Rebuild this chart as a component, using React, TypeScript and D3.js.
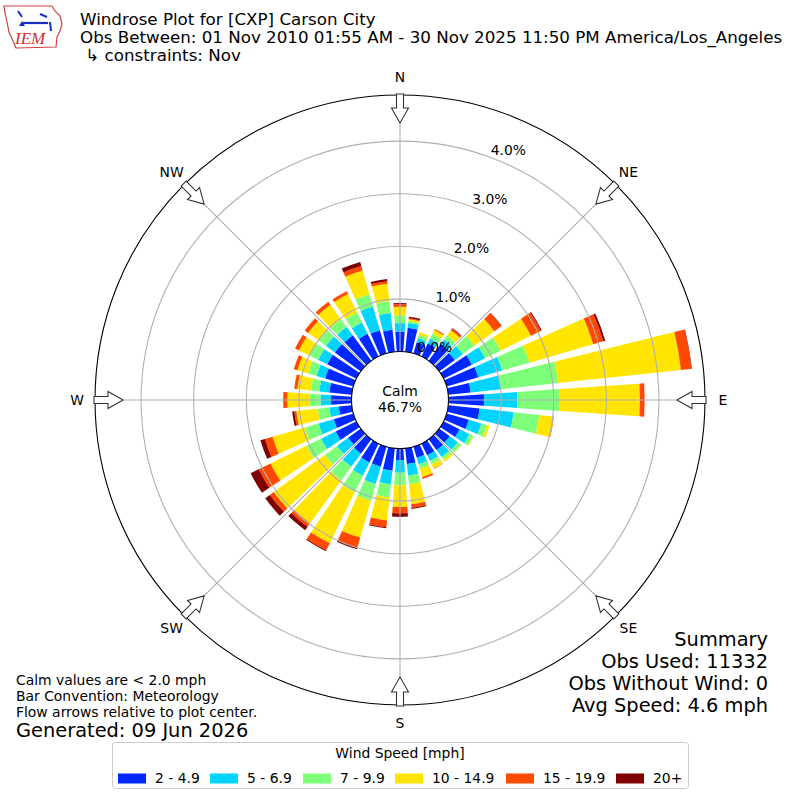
import React from 'react';
import * as d3 from 'd3';

// wind directions (deg, meteorological) and percent of obs per speed bin
const directions = [0, 10, 20, 30, 40, 50, 60, 70, 80, 90, 100, 110, 120, 130, 140, 150, 160, 170,
  180, 190, 200, 210, 220, 230, 240, 250, 260, 270, 280, 290, 300, 310, 320, 330, 340, 350];

const pct2to5 = [0.38, 0.46, 0.22, 0.28, 0.40, 0.37, 0.60, 0.63, 0.43, 0.68, 0.60, 0.44, 0.34, 0.25, 0.26, 0.25, 0.22, 0.30,
  0.22, 0.43, 0.40, 0.40, 0.34, 0.30, 0.44, 0.39, 0.25, 0.39, 0.43, 0.56, 0.62, 0.61, 0.60, 0.48, 0.46, 0.42];
const pct5to7 = [0.16, 0.09, 0.08, 0.10, 0.10, 0.19, 0.28, 0.47, 0.58, 0.63, 0.65, 0.25, 0.21, 0.19, 0.16, 0.12, 0.13, 0.22,
  0.24, 0.26, 0.34, 0.28, 0.31, 0.26, 0.31, 0.30, 0.18, 0.20, 0.19, 0.17, 0.19, 0.21, 0.20, 0.24, 0.47, 0.32];
const pct7to10 = [0.15, 0.04, 0.07, 0.10, 0.10, 0.27, 0.33, 0.54, 1.09, 0.81, 0.49, 0.11, 0.08, 0.07, 0.06, 0.07, 0.09, 0.17,
  0.24, 0.25, 0.33, 0.35, 0.32, 0.29, 0.31, 0.27, 0.22, 0.21, 0.16, 0.17, 0.18, 0.17, 0.18, 0.21, 0.24, 0.23];
const pct10to15 = [0.16, 0.03, 0.05, 0.08, 0.12, 0.47, 0.64, 1.26, 2.35, 1.52, 0.27, 0.05, 0.01, 0.01, 0.05, 0.09, 0.16, 0.38,
  0.41, 0.44, 0.73, 1.08, 1.01, 1.20, 0.76, 0.64, 0.41, 0.42, 0.26, 0.21, 0.23, 0.25, 0.34, 0.39, 0.47, 0.33];
const pct15to20 = [0.05, 0.02, 0.0, 0.02, 0.04, 0.16, 0.21, 0.20, 0.20, 0.09, 0.01, 0.0, 0.0, 0.0, 0.0, 0.01, 0.04, 0.07,
  0.12, 0.13, 0.20, 0.15, 0.08, 0.09, 0.25, 0.15, 0.04, 0.08, 0.06, 0.07, 0.08, 0.08, 0.07, 0.06, 0.09, 0.05];
const pct20plus = [0.02, 0.03, 0.0, 0.0, 0.01, 0.01, 0.02, 0.04, 0.01, 0.0, 0.0, 0.0, 0.0, 0.0, 0.0, 0.0, 0.0, 0.02,
  0.07, 0.02, 0.03, 0.02, 0.08, 0.11, 0.17, 0.09, 0.04, 0.0, 0.0, 0.0, 0.0, 0.0, 0.0, 0.0, 0.08, 0.04];

const speedBins = ['2 - 4.9', '5 - 6.9', '7 - 9.9', '10 - 14.9', '15 - 19.9', '20+'];
const binColors = ['#0028ff', '#00d4ff', '#7dff7a', '#ffe500', '#ff4800', '#800000'];
const ringTicks = [0, 1, 2, 3, 4];
const compass = [
  { label: 'N', deg: 0 }, { label: 'NE', deg: 45 }, { label: 'E', deg: 90 }, { label: 'SE', deg: 135 },
  { label: 'S', deg: 180 }, { label: 'SW', deg: 225 }, { label: 'W', deg: 270 }, { label: 'NW', deg: 315 },
];
const titleLines = [
  'Windrose Plot for [CXP] Carson City',
  'Obs Between: 01 Nov 2010 01:55 AM - 30 Nov 2025 11:50 PM America/Los_Angeles',
  ' \u21b3 constraints: Nov',
];
const summaryLines = ['Summary', 'Obs Used: 11332', 'Obs Without Wind: 0', 'Avg Speed: 4.6 mph'];
const noteLines = ['Calm values are < 2.0 mph', 'Bar Convention: Meteorology', 'Flow arrows relative to plot center.'];

const FONT = "'DejaVu Sans', sans-serif";

export default function App() {
  const cx = 400;
  const cy = 400;
  const calmR = 48.5;
  const outerR = 305;
  const r = d3.scaleLinear().domain([0, 4]).range([calmR, calmR + 4 * 52.6]);
  const rad = (deg: number) => (deg * Math.PI) / 180;

  const keys = ['b0', 'b1', 'b2', 'b3', 'b4', 'b5'];
  const binArrays = [pct2to5, pct5to7, pct7to10, pct10to15, pct15to20, pct20plus];
  const table = directions.map((dir, i) => {
    const row: any = { dir };
    keys.forEach((k, j) => (row[k] = binArrays[j][i]));
    return row;
  });
  const series = d3.stack<any>().keys(keys)(table);

  const halfWidth = 3.9; // degrees, bars take ~78% of the 10 deg sector
  const arc = d3.arc<any>()
    .innerRadius((d) => r(d[0]))
    .outerRadius((d) => r(d[1]))
    .startAngle((d) => rad(d.data.dir - halfWidth))
    .endAngle((d) => rad(d.data.dir + halfWidth));

  // hollow arrow pointing toward the centre, drawn for north then rotated
  const arrowPts = [
    [-3.5, -outerR - 1], [3.5, -outerR - 1], [3.5, -292], [8.5, -292], [0, -277], [-8.5, -292], [-3.5, -292],
  ].map((p) => p.join(',')).join(' ');

  const legendX = [118, 210, 303, 395, 506, 616];
  const rLabelAngle = rad(20.5);

  return (
    <div style={{ position: 'absolute', left: 0, top: 0 }}>
      <svg width={800} height={800} style={{ display: 'block', background: '#fff' }} fontFamily={FONT}>
        {/* IEM logo */}
        <g>
          <path d="M4,6 L52,6 L55,11 L60,16 L62,24 L60,31 L57,37 L56,47 L16,48 L13,41 L9,32 L7,22 L5,13 Z"
            fill="#fff" stroke="#d04040" strokeWidth={1.2} />
          <line x1={23} y1={23} x2={48} y2={23} stroke="#1a2fc0" strokeWidth={2.2} />
          <path d="M19,26 L22,21 L25,26 Z" fill="#1a2fc0" />
          <path d="M18,11 L22,17 M40,14 L47,17 M50,22 L51,31" stroke="#1a2fc0" strokeWidth={2} fill="none" />
          <text x={15} y={44} fontFamily="'Liberation Serif', serif" fontStyle="italic" fontSize={17} fill="#d03030">IEM</text>
        </g>

        {titleLines.map((t, i) => (
          <text key={t} x={80} y={24.5 + i * 18} fontSize={16.7} fill="#000" style={{ whiteSpace: 'pre' }}>{t}</text>
        ))}

        <g transform={`translate(${cx},${cy})`}>
          {/* bars */}
          {series.map((s, j) => (
            <g key={s.key} fill={binColors[j]}>
              {s.map((d: any) => (d[1] - d[0] > 0 ? <path key={d.data.dir} d={arc(d) || ''} /> : null))}
            </g>
          ))}

          {/* grid */}
          {ringTicks.slice(1).map((t) => (
            <circle key={t} r={r(t)} fill="none" stroke="#b0b0b0" strokeWidth={1.1} />
          ))}
          {compass.map((c) => (
            <line key={c.label} x1={0} y1={0} x2={outerR * Math.sin(rad(c.deg))} y2={-outerR * Math.cos(rad(c.deg))}
              stroke="#b0b0b0" strokeWidth={1.1} />
          ))}

          {/* calm circle */}
          <circle r={calmR} fill="#fff" stroke="#000" strokeWidth={1.1} />
          <text y={-9} textAnchor="middle" dominantBaseline="central" fontSize={13.9}>Calm</text>
          <text y={7} textAnchor="middle" dominantBaseline="central" fontSize={13.9}>46.7%</text>

          {/* radial labels */}
          {ringTicks.map((t) => (
            <text key={t} x={r(t) * Math.sin(rLabelAngle)} y={-r(t) * Math.cos(rLabelAngle) - 3}
              fontSize={13.9} textAnchor="start">{`${t.toFixed(1)}%`}</text>
          ))}

          <circle r={outerR} fill="none" stroke="#000" strokeWidth={1.1} />

          {/* flow arrows and compass labels */}
          {compass.map((c) => (
            <g key={c.label}>
              <polygon points={arrowPts} transform={`rotate(${c.deg})`} fill="#fff" stroke="#333" strokeWidth={1.1} />
              <text x={323 * Math.sin(rad(c.deg))} y={-323 * Math.cos(rad(c.deg))} textAnchor="middle"
                dominantBaseline="central" fontSize={13.9}>{c.label}</text>
            </g>
          ))}
        </g>

        {/* summary */}
        {summaryLines.map((t, i) => (
          <text key={t} x={768} y={646 + i * 22} textAnchor="end" fontSize={19.4}>{t}</text>
        ))}

        {/* notes */}
        {noteLines.map((t, i) => (
          <text key={t} x={16} y={684.5 + i * 16} fontSize={13.9}>{t}</text>
        ))}
        <text x={16} y={736.5} fontSize={19.4}>Generated: 09 Jun 2026</text>

        {/* legend */}
        <rect x={112.5} y={742.5} width={576} height={46} rx={3} fill="#fff" stroke="#cccccc" />
        <text x={400} y={758} textAnchor="middle" fontSize={13.9}>Wind Speed [mph]</text>
        {speedBins.map((b, i) => (
          <g key={b}>
            <rect x={legendX[i]} y={773.5} width={28} height={10} fill={binColors[i]} />
            <text x={legendX[i] + 37} y={783} fontSize={13.9}>{b}</text>
          </g>
        ))}
      </svg>
    </div>
  );
}
